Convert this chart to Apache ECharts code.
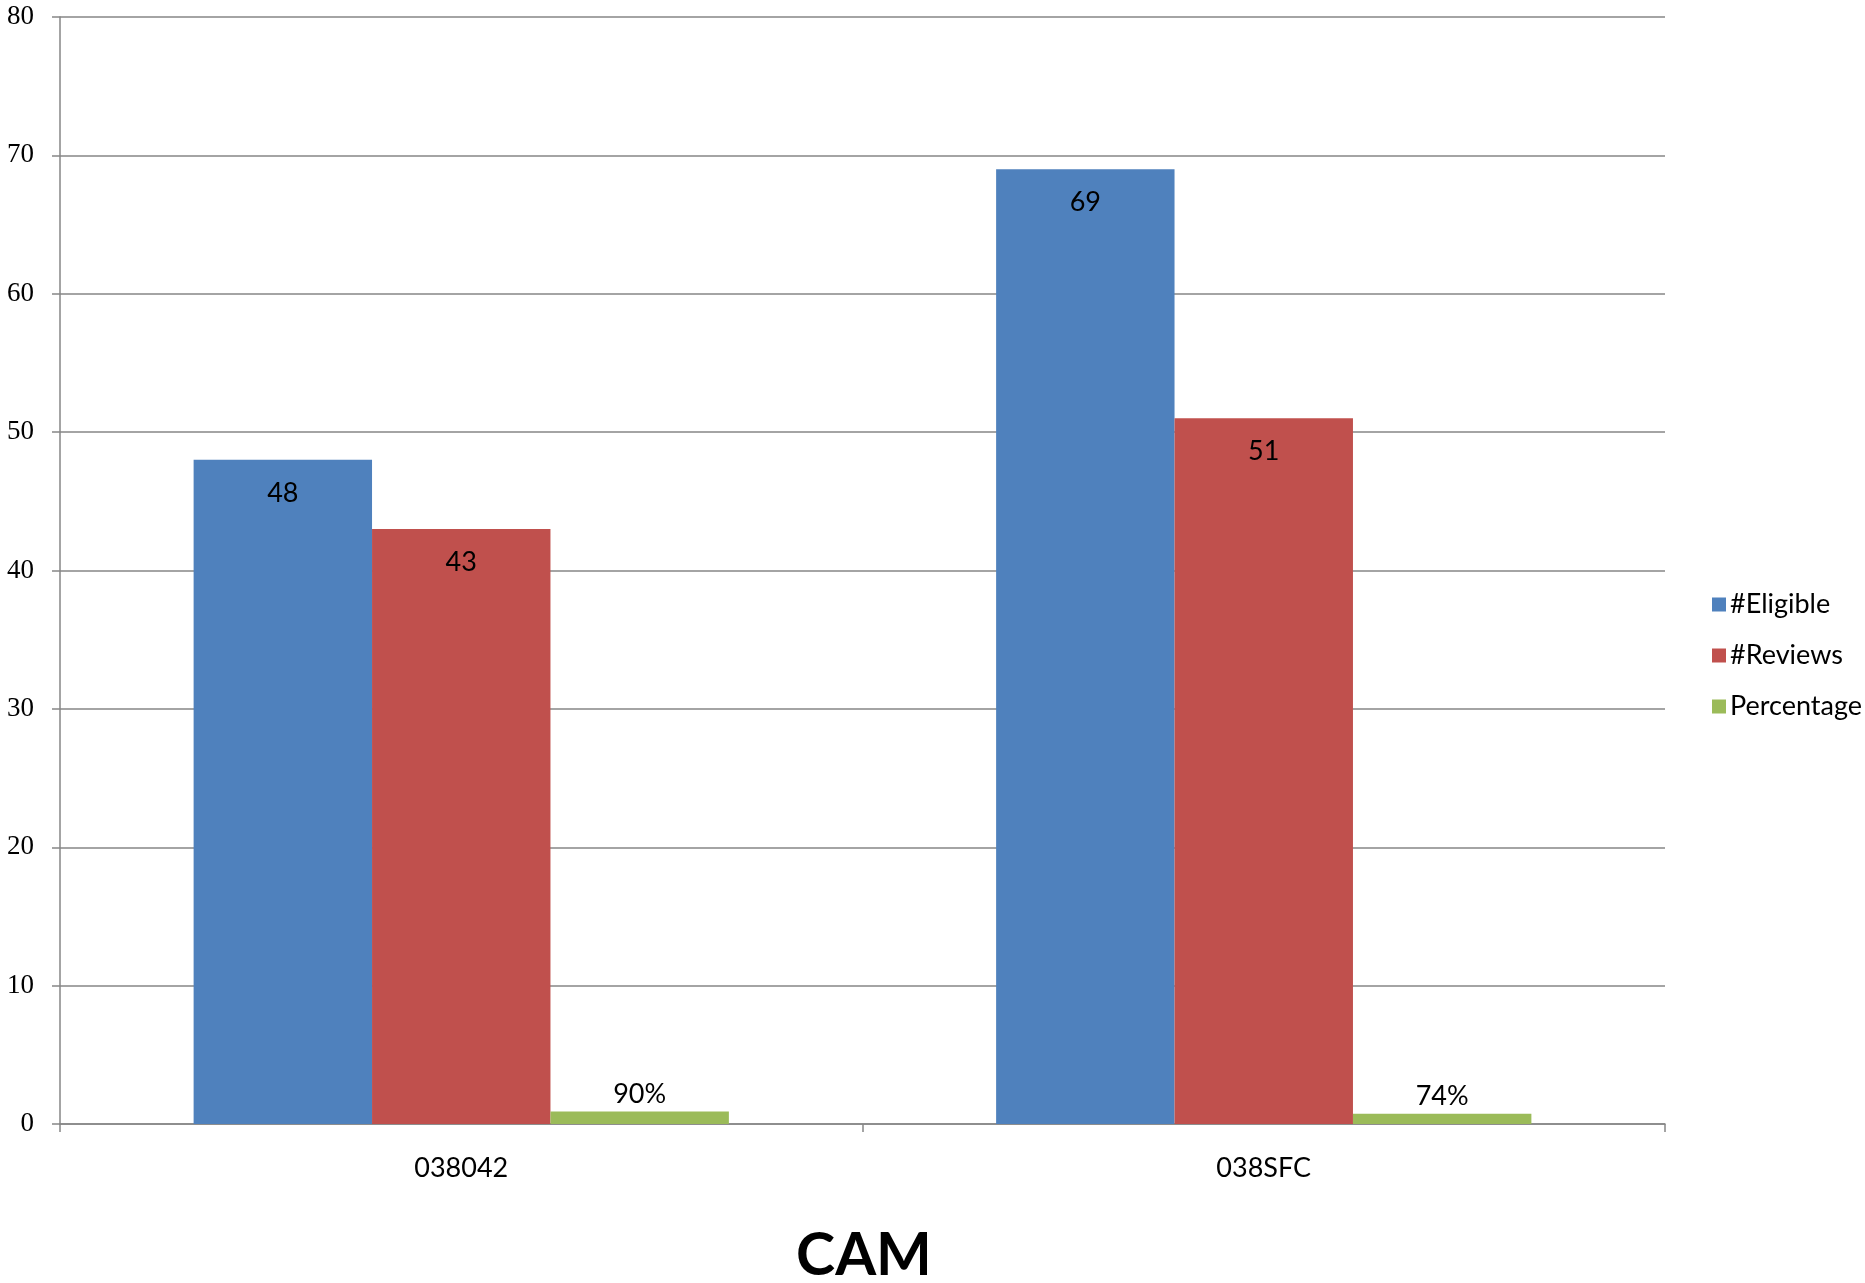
<!DOCTYPE html>
<html>
<head>
<meta charset="utf-8">
<script src="https://cdn.jsdelivr.net/npm/echarts@6/dist/echarts.min.js"></script>
<style>
html,body{margin:0;padding:0;background:#fff;}
#chart{width:1865px;height:1283px;}
</style>
</head>
<body>
<div id="chart"></div>
<script>
const categories = ['038042', '038SFC'];
const eligible = [48, 69];
const reviews = [43, 51];
const percentage = [0.90, 0.74];
const yTicks = [0, 10, 20, 30, 40, 50, 60, 70, 80];
const chartTitle = 'CAM';

const narrow = "Lato, sans-serif";
const gridColor = '#868686';

const chart = echarts.init(document.getElementById('chart'));
chart.setOption({
  animation: false,
  backgroundColor: '#ffffff',
  title: {
    text: chartTitle,
    left: 859,
    textAlign: 'center',
    top: 1221,
    textStyle: { fontFamily: "Lato, 'Liberation Sans', sans-serif", fontWeight: 'bold', fontSize: 59, color: '#000' }
  },
  legend: {
    orient: 'vertical',
    left: 1707,
    top: 586,
    itemWidth: 14,
    itemHeight: 14,
    itemGap: 24,
    icon: 'rect',
    textStyle: { fontFamily: narrow, fontSize: 27, color: '#000', padding: [0, 0, 0, -1] },
    data: ['#Eligible', '#Reviews', 'Percentage']
  },
  grid: { left: 60, right: 200, top: 17, bottom: 159, containLabel: false },
  xAxis: {
    type: 'category',
    data: categories,
    axisLine: { lineStyle: { color: gridColor, width: 1.5 } },
    axisTick: { show: true, alignWithLabel: false, length: 8, lineStyle: { color: gridColor, width: 1.5 } },
    axisLabel: { margin: 31, fontFamily: narrow, fontSize: 27, color: '#000' }
  },
  yAxis: {
    type: 'value',
    min: yTicks[0],
    max: yTicks[yTicks.length - 1],
    interval: 10,
    axisLine: { show: true, lineStyle: { color: gridColor, width: 1.5 } },
    axisTick: { show: true, length: 8, lineStyle: { color: gridColor, width: 1.5 } },
    splitLine: { lineStyle: { color: gridColor, width: 1.5 } },
    axisLabel: { margin: 26, fontFamily: "'Liberation Serif', 'Times New Roman', serif", fontSize: 27, color: '#000' }
  },
  series: [
    {
      name: '#Eligible', type: 'bar', data: eligible,
      barGap: '0%', barCategoryGap: '33.3%',
      itemStyle: { color: '#4F81BD' },
      label: { show: true, position: 'insideTop', distance: 20, fontFamily: narrow, fontSize: 27, color: '#000' }
    },
    {
      name: '#Reviews', type: 'bar', data: reviews,
      barGap: '0%', barCategoryGap: '33.3%',
      itemStyle: { color: '#C0504D' },
      label: { show: true, position: 'insideTop', distance: 20, fontFamily: narrow, fontSize: 27, color: '#000' }
    },
    {
      name: 'Percentage', type: 'bar', data: percentage,
      barGap: '0%', barCategoryGap: '33.3%',
      itemStyle: { color: '#9BBB59' },
      label: {
        show: true, position: 'top', distance: 4, fontFamily: narrow, fontSize: 27, color: '#000',
        formatter: p => Math.round(p.value * 100) + '%'
      }
    }
  ]
});
</script>
</body>
</html>
